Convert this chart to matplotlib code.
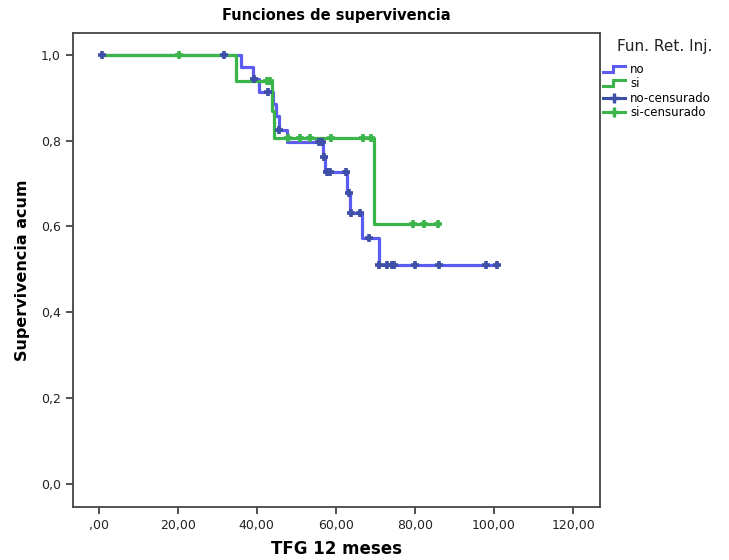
import matplotlib
matplotlib.use('Agg')
import matplotlib.pyplot as plt
from matplotlib.lines import Line2D
from matplotlib.legend_handler import HandlerBase
from matplotlib.ticker import FuncFormatter

''' Data read from the reference '''
# Kaplan-Meier steps (time, survival after step)
no_times = [0.8, 35.9, 39.0, 40.6, 44.1, 44.8, 45.6, 47.7, 56.8, 57.3, 62.8, 63.6, 66.6, 70.8, 100.8]
no_surv = [1.0, 0.971, 0.943, 0.914, 0.886, 0.857, 0.826, 0.798, 0.762, 0.726, 0.679, 0.632, 0.573, 0.509, 0.509]

si_times = [0.8, 34.8, 43.8, 44.4, 69.7, 85.8]
si_surv = [1.0, 0.940, 0.868, 0.806, 0.605, 0.605]

# Censored observations
no_cens_x = [0.8, 31.7, 39.3, 42.9, 45.7, 55.7, 56.4, 57.0, 57.8, 58.6, 62.5, 63.4, 63.8, 66.0, 68.5,
             71.0, 72.9, 74.1, 74.8, 80.0, 86.1, 97.9, 100.8]
no_cens_y = [1.0, 1.0, 0.943, 0.914, 0.826, 0.798, 0.798, 0.762, 0.726, 0.726, 0.726, 0.679, 0.632, 0.632, 0.573,
             0.509, 0.509, 0.509, 0.509, 0.509, 0.509, 0.509, 0.509]

si_cens_x = [20.3, 42.5, 43.4, 48.0, 50.9, 53.5, 58.8, 66.8, 68.8, 79.4, 82.4, 85.8]
si_cens_y = [1.0, 0.94, 0.94, 0.806, 0.806, 0.806, 0.806, 0.806, 0.806, 0.605, 0.605, 0.605]

x_ticks = [0, 20, 40, 60, 80, 100, 120]
y_ticks = [0.0, 0.2, 0.4, 0.6, 0.8, 1.0]

legend_title = 'Fun. Ret. Inj.'
legend_labels = ['no', 'si', 'no-censurado', 'si-censurado']

''' Colours '''
blue_line = '#5c5cf2'
blue_mark = '#3d4fa6'
green_line = '#3bb54a'
green_mark = '#3bb54a'


# Legend handler drawing a small step
class StepHandler(HandlerBase):
    def create_artists(self, legend, orig_handle, xdescent, ydescent, width, height, fontsize, trans):
        x0 = -xdescent
        y0 = -ydescent
        xs = [x0, x0 + width * 0.45, x0 + width * 0.45, x0 + width]
        ys = [y0 + height * 0.15, y0 + height * 0.15, y0 + height * 0.85, y0 + height * 0.85]
        line = Line2D(xs, ys, color=orig_handle.get_color(), lw=2.2, solid_joinstyle='miter')
        line.set_transform(trans)
        return [line]


def comma_fmt(decimals):
    def f(v, pos):
        s = f"{v:.{decimals}f}".replace('.', ',')
        if s.startswith('0,') and decimals == 2:
            s = s[1:]
        return s
    return f


fig = plt.figure(figsize=(7.29, 5.6), dpi=100)
ax = fig.add_axes([0.0995, 0.0946, 0.7235, 0.8465])

ax.step(no_times, no_surv, where='post', color=blue_line, lw=2.3, zorder=2)
ax.step(si_times, si_surv, where='post', color=green_line, lw=2.3, zorder=3)
ax.plot(no_cens_x, no_cens_y, linestyle='none', marker='+', ms=6, mew=2.6, color=blue_mark, zorder=4)
ax.plot(si_cens_x, si_cens_y, linestyle='none', marker='+', ms=6, mew=2.6, color=green_mark, zorder=5)

ax.set_xlim(-6.6, 126.8)
ax.set_ylim(-0.054, 1.051)
ax.set_xticks(x_ticks)
ax.set_yticks(y_ticks)
ax.xaxis.set_major_formatter(FuncFormatter(comma_fmt(2)))
ax.yaxis.set_major_formatter(FuncFormatter(comma_fmt(1)))
ax.tick_params(direction='out', length=5, width=1.2, colors='#333333', labelsize=9, labelcolor='#222222')

for sp in ax.spines.values():
    sp.set_color('#444444')
    sp.set_linewidth(1.3)

ax.set_title('Funciones de supervivencia', fontsize=10.5, fontweight='bold', pad=9)
ax.set_xlabel('TFG 12 meses', fontsize=12, fontweight='bold', labelpad=6)
ax.set_ylabel('Supervivencia acum', fontsize=11.5, fontweight='bold', labelpad=8)

# Legend (title drawn separately for spacing)
fig.text(665 / 729, 1 - 47 / 560, legend_title, fontsize=11, ha='center', va='center', color='#222222')
h_no = Line2D([], [], color=blue_line)
h_si = Line2D([], [], color=green_line)
h_no_c = Line2D([], [], color=blue_mark, lw=2.2, marker='+', ms=7, mew=2.4)
h_si_c = Line2D([], [], color=green_mark, lw=2.2, marker='+', ms=7, mew=2.4)
leg = fig.legend([h_no, h_si, h_no_c, h_si_c], legend_labels,
                 handler_map={h_no: StepHandler(), h_si: StepHandler()},
                 loc='upper left', bbox_to_anchor=(603 / 729, 1 - 63 / 560),
                 bbox_transform=fig.transFigure, frameon=False,
                 fontsize=8.5, handlelength=1.9, handletextpad=0.4,
                 labelspacing=0.12, borderaxespad=0, borderpad=0)

fig.savefig('out.png', dpi=100)
